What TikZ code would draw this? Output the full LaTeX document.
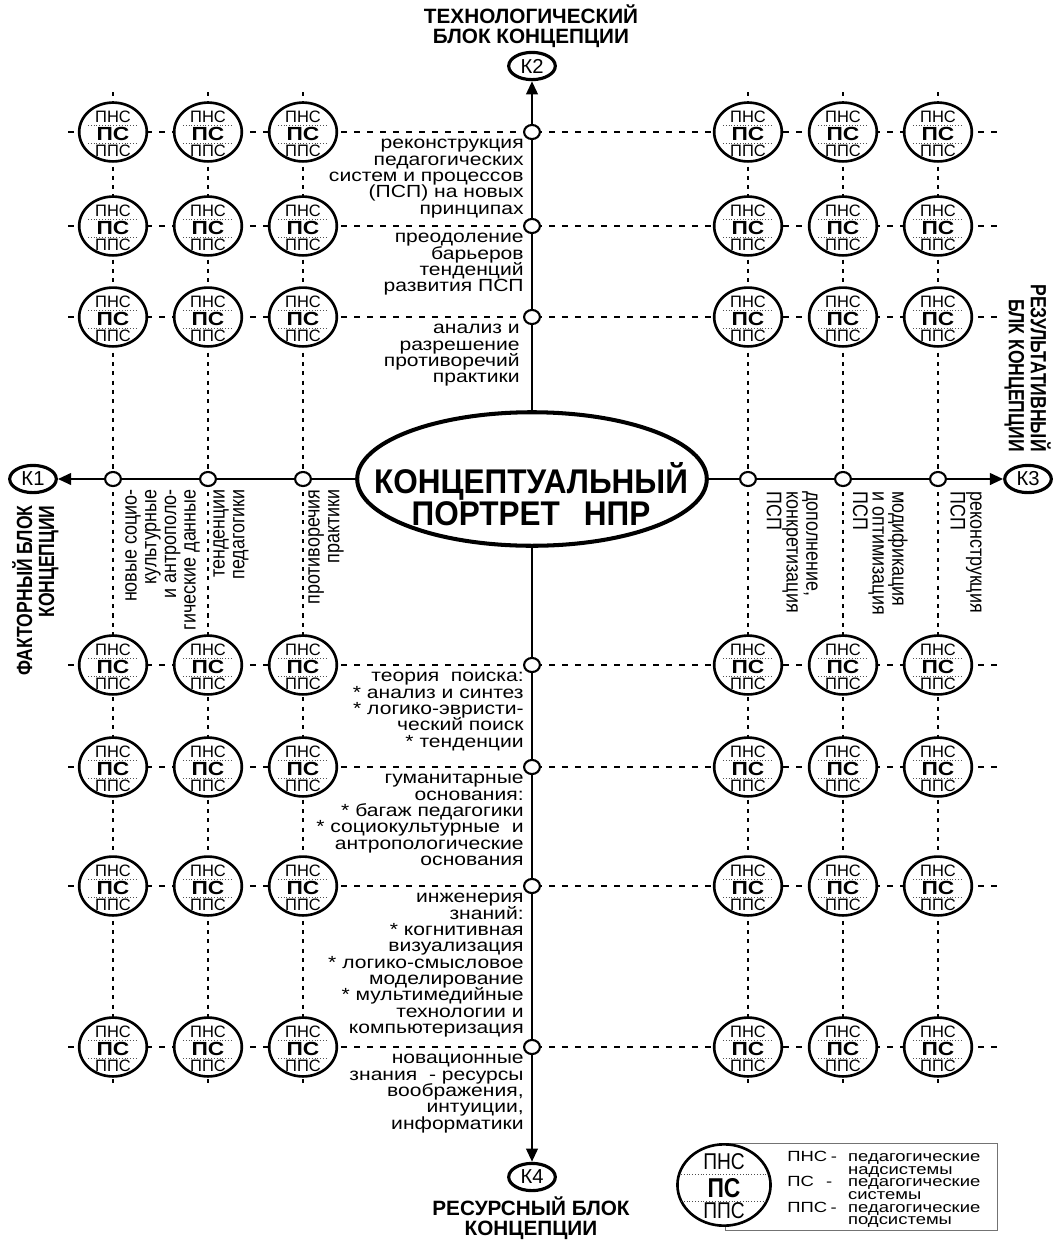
\documentclass[tikz,border=0pt]{standalone}
\usepackage{fontspec}
\setmainfont{Liberation Sans}
\newfontfamily\widefont{Liberation Sans}[FakeStretch=1.2]
\newfontfamily\legfont{Liberation Sans}[FakeStretch=1.25]
\newfontfamily\rotfont{Liberation Sans}[FakeStretch=0.85]
\newfontfamily\titlerot{Liberation Sans}[FakeStretch=0.8]
\newfontfamily\bigcond{Liberation Sans}[FakeStretch=0.92]
\newfontfamily\legab{Liberation Sans}[FakeStretch=0.84]
\usetikzlibrary{shapes.geometric,arrows.meta}
\setlength{\lineskiplimit}{-30pt}
\newcommand\legrow[2]{\makebox[34.6pt][l]{#1}#2}

\tikzset{
  axis/.style={line width=1.5pt},
  tip/.style={-{Triangle[length=7.5pt,width=6.5pt]}},
  hgrid/.style={line width=1.3pt,dash pattern=on 3.4pt off 4pt},
  vgrid/.style={line width=1.7pt,dash pattern=on 2.3pt off 3pt},
  innerdots/.style={line width=0.5pt,dash pattern=on 0.5pt off 1.1pt,black!70},
  sysell/.style={ellipse,draw,line width=1.5pt,fill=white,minimum width=38.5pt,minimum height=33.5pt,inner sep=0pt},
  syssmall/.style={inner sep=0pt,font=\fontsize{9.4}{9.4}\selectfont},
  sysbold/.style={inner sep=0pt,font=\widefont\bfseries\fontsize{10.8}{11}\selectfont},
  jn/.style={ellipse,draw,fill=white,line width=1.2pt,minimum width=9pt,minimum height=8pt,inner sep=0pt},
  knode/.style={ellipse,draw,line width=1.8pt,fill=white,minimum width=26.5pt,minimum height=15.5pt,inner sep=0pt,font=\fontsize{11.5}{12}\selectfont},
  centre/.style={ellipse,draw,line width=2.3pt,fill=white,minimum width=199pt,minimum height=76pt,inner sep=0pt},
  axtext/.style={align=right,inner sep=0pt,anchor=north east,font=\widefont\fontsize{10}{9.3}\selectfont},
  rotleft/.style={rotate=90,align=right,inner sep=0pt,anchor=north east,font=\rotfont\fontsize{12}{11.2}\selectfont},
  rotright/.style={rotate=-90,align=left,inner sep=0pt,anchor=north west,font=\rotfont\fontsize{12}{11.2}\selectfont},
  bigtitle/.style={align=center,inner sep=0pt,font=\bfseries\fontsize{11.8}{11.2}\selectfont},
  sidetitle/.style={align=right,inner sep=0pt,anchor=north east,font=\titlerot\bfseries\fontsize{12.5}{12.5}\selectfont},
  sysunit/.pic={
    \node[sysell] (-e) at (0,0) {};
    \draw[innerdots] (-25,-7) -- (25,-7);
    \draw[innerdots] (-25,11) -- (25,11);
    \node[syssmall] (-t) at (0,-15) {ПНС};
    \node[sysbold] (-m) at (0,2) {ПС};
    \node[syssmall] (-b) at (0,19) {ППС};
  }
}

\begin{document}
\begin{tikzpicture}[x=0.02cm,y=-0.02cm]
\useasboundingbox (0,0) rectangle (1061,1242);

% dashed rows and dotted columns of the grid
\foreach \yy [count=\i] in {132,226,317,665,767,886,1047} {
  \coordinate (rl\i) at (68,\yy);
  \coordinate (rr\i) at (1000,\yy);
  \draw[hgrid] (rl\i) -- (rr\i);
}
\foreach \xx [count=\j] in {113,208,303,748,843,938} {
  \coordinate (ct\j) at (\xx,92);
  \coordinate (cb\j) at (\xx,1088);
  \draw[vgrid] (ct\j) -- (cb\j);
}

% central portrait and the four blocks
\node[centre] (core) at (532,479) {};
\node[align=center,inner sep=0pt,font=\bigcond\bfseries\fontsize{19.5}{18.2}\selectfont] (coretext) at (531,494)
  {КОНЦЕПТУАЛЬНЫЙ\\ПОРТРЕТ\hspace{0.7em}НПР};
\node[knode] (k1) at (33,479) {К1};
\node[knode] (k2) at (532,66) {К2};
\node[knode] (k3) at (1028,479) {К3};
\node[knode] (k4) at (532,1177) {К4};

\draw[axis,tip] (core.north) -- (k2.south);
\draw[axis,tip] (core.south) -- (k4.north);
\draw[axis,tip] (core.west) -- (k1.east);
\draw[axis,tip] (core.east) -- (k3.west);

% junctions on the axes
\foreach \yy [count=\i] in {132,226,317,665,767,886,1047}
  \node[jn] (jv\i) at (532,\yy) {};
\foreach \xx [count=\j] in {113,208,303,748,843,938}
  \node[jn] (jh\j) at (\xx,479) {};

% system units at the grid crossings
\foreach \yy [count=\i] in {132,226,317,665,767,886,1047}
  \foreach \xx [count=\j] in {113,208,303,748,843,938}
    \pic (g\i\j) at (\xx,\yy) {sysunit};

% texts along the vertical axis
\node[axtext] (t1) at (524,139) {реконструкция\\педагогических\\систем и процессов\\(ПСП) на новых\\принципах};
\node[axtext] (t2) at (524,233) {преодоление\\барьеров\\тенденций\\развития ПСП};
\node[axtext] (t3) at (520,324) {анализ и\\разрешение\\противоречий\\практики};
\node[axtext] (b1) at (524,672) {теория\ \ поиска:\\* анализ и синтез\\* логико-эвристи-\\ческий поиск\\* тенденции};
\node[axtext] (b2) at (524,774) {гуманитарные\\основания:\\* багаж педагогики\\* социокультурные\ \ и\\антропологические\\основания};
\node[axtext] (b3) at (524,893) {инженерия\\знаний:\\* когнитивная\\визуализация\\* логико-смысловое\\моделирование\\* мультимедийные\\технологии и\\компьютеризация};
\node[axtext] (b4) at (524,1054) {новационные\\знания\ \ - ресурсы\\воображения,\\интуиции,\\информатики};

% texts along the horizontal axis
\node[rotleft] (l1) at (125,489) {новые социо-\\культурные\\и антрополо-\\гические данные};
\node[rotleft] (l2) at (213,489) {тенденции\\педагогики};
\node[rotleft] (l3) at (308,489) {противоречия\\практики};
\node[rotright] (r1) at (818,491) {дополнение,\\конкретизация\\ПСП};
\node[rotright] (r2) at (908,491) {модификация\\и оптимизация\\ПСП};
\node[rotright] (r3) at (982,491) {реконструкция\\ПСП};

% block titles
\node[bigtitle] (ttop) at (531,26) {ТЕХНОЛОГИЧЕСКИЙ\\БЛОК КОНЦЕПЦИИ};
\node[bigtitle] (tbot) at (531,1218) {РЕСУРСНЫЙ БЛОК\\КОНЦЕПЦИИ};
\node[sidetitle,rotate=90] (tleft) at (12,505) {ФАКТОРНЫЙ БЛОК\\КОНЦЕПЦИИ};
\node[sidetitle,rotate=-90] (tright) at (1051,452) {РЕЗУЛЬТАТИВНЫЙ\\БЛК КОНЦЕПЦИИ};

% legend
\node[draw=black!55,line width=0.6pt,minimum width=154.8pt,minimum height=49.3pt,inner sep=0pt,anchor=north west] (legbox) at (725,1143) {};
\node[ellipse,draw,line width=1.5pt,fill=white,minimum width=53pt,minimum height=46.3pt,inner sep=0pt] (lege) at (724,1185) {};
\draw[innerdots] (681,1174) -- (767,1174);
\draw[innerdots] (681,1201) -- (767,1201);
\node[inner sep=0pt,font=\legab\fontsize{13}{13}\selectfont] (legt) at (724,1162) {ПНС};
\node[inner sep=0pt,font=\legab\bfseries\fontsize{15.5}{15.5}\selectfont] (legm) at (724,1188) {ПС};
\node[inner sep=0pt,font=\legab\fontsize{13}{13}\selectfont] (legb) at (724,1211) {ППС};
\node[align=left,inner sep=0pt,anchor=north west,font=\legfont\fontsize{8.4}{7.2}\selectfont] (legtxt) at (787,1151)
  {\legrow{ПНС\hspace{2pt}-}{педагогические}\\
   \legrow{}{надсистемы}\\
   \legrow{ПС\hspace{7pt}-}{педагогические}\\
   \legrow{}{системы}\\
   \legrow{ППС\hspace{2pt}-}{педагогические}\\
   \legrow{}{подсистемы}};
\end{tikzpicture}
\end{document}
